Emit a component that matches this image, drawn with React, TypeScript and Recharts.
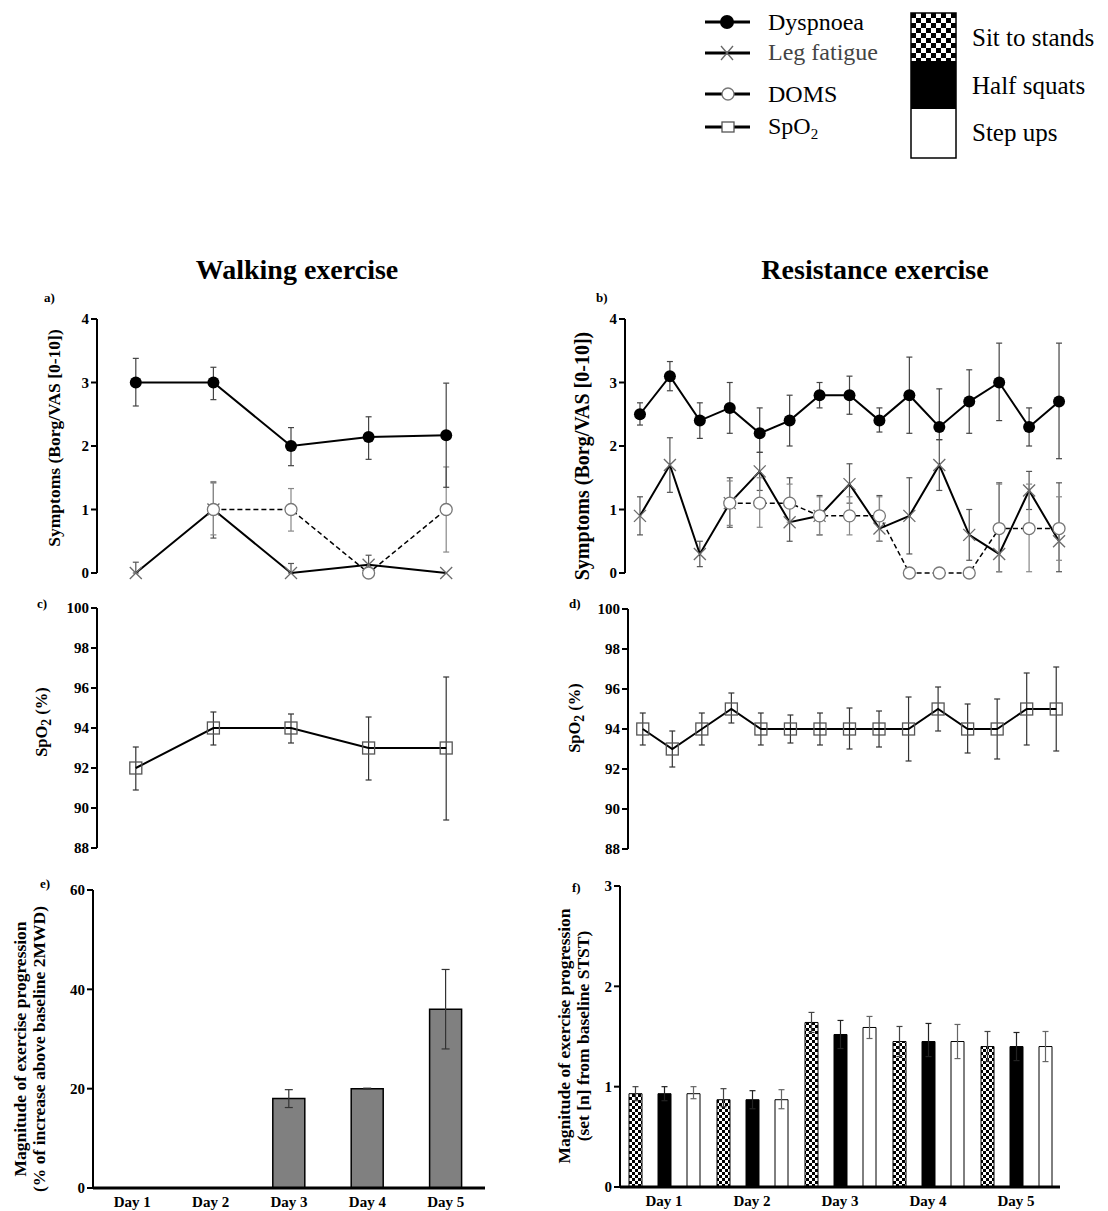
import React from 'react';
import { LineChart, Line, BarChart, Bar, XAxis, YAxis, ErrorBar } from 'recharts';

const SERIF = '"Liberation Serif", "Times New Roman", serif';

// walking exercise (days 1-5)
const walkDays = [1, 2, 3, 4, 5];
const walkDyspnoea = [3, 3, 2, 2.14, 2.17];
const walkDyspnoeaLo = [2.63, 2.73, 1.69, 1.79, 1.35];
const walkDyspnoeaHi = [3.38, 3.24, 2.29, 2.46, 2.99];
const walkLeg = [0, 1, 0, 0.13, 0];
const walkLegLo = [0, 0.55, 0, 0, null];
const walkLegHi = [0.17, 1.42, 0.15, 0.28, null];
const walkDoms = [null, 1, 1, 0, 1];
const walkDomsLo = [null, 0.6, 0.66, null, 0.33];
const walkDomsHi = [null, 1.44, 1.33, null, 1.67];
const walkSpo2 = [92, 94, 94, 93, 93];
const walkSpo2Lo = [90.9, 93.15, 93.25, 91.4, 89.4];
const walkSpo2Hi = [93.05, 94.8, 94.7, 94.55, 96.55];

// resistance exercise (sessions 1-15)
const resSessions = [1, 2, 3, 4, 5, 6, 7, 8, 9, 10, 11, 12, 13, 14, 15];
const resDyspnoea = [2.5, 3.1, 2.4, 2.6, 2.2, 2.4, 2.8, 2.8, 2.4, 2.8, 2.3, 2.7, 3.0, 2.3, 2.7];
const resDyspnoeaLo = [2.33, 2.87, 2.12, 2.2, 1.9, 2.0, 2.6, 2.5, 2.22, 2.2, 2.1, 2.2, 2.4, 2.0, 1.8];
const resDyspnoeaHi = [2.68, 3.33, 2.68, 3.0, 2.6, 2.8, 3.0, 3.1, 2.6, 3.4, 2.9, 3.2, 3.62, 2.6, 3.62];
const resLeg = [0.9, 1.7, 0.3, 1.1, 1.6, 0.8, 0.9, 1.4, 0.7, 0.9, 1.7, 0.6, 0.3, 1.3, 0.5];
const resLegLo = [0.6, 1.27, 0.1, 0.72, 1.3, 0.5, 0.6, 1.1, 0.5, 0.3, 1.3, 0.2, 0.02, 1.0, 0.02];
const resLegHi = [1.2, 2.13, 0.5, 1.5, 1.9, 1.5, 1.22, 1.72, 1.22, 1.5, 2.1, 1.0, 1.42, 1.6, 1.42];
const resDoms = [null, null, null, 1.1, 1.1, 1.1, 0.9, 0.9, 0.9, 0, 0, 0, 0.7, 0.7, 0.7];
const resDomsLo = [null, null, null, 0.75, 0.72, 0.8, 0.6, 0.6, 0.5, null, null, null, 0.02, 0.02, 0.2];
const resDomsHi = [null, null, null, 1.45, 1.5, 1.4, 1.2, 1.2, 1.2, null, null, null, 1.4, 1.4, 1.2];
const resSpo2 = [94, 93, 94, 95, 94, 94, 94, 94, 94, 94, 95, 94, 94, 95, 95];
const resSpo2Lo = [93.2, 92.1, 93.2, 94.3, 93.2, 93.3, 93.2, 93.0, 93.1, 92.4, 93.9, 92.8, 92.5, 93.2, 92.9];
const resSpo2Hi = [94.8, 93.9, 94.8, 95.8, 94.8, 94.7, 94.8, 95.05, 94.9, 95.6, 96.1, 95.25, 95.5, 96.8, 97.1];

// exercise progression
const dayLabels = ['Day 1', 'Day 2', 'Day 3', 'Day 4', 'Day 5'];
const walkProgress = [null, null, 18, 20, 36];
const walkProgressLo = [null, null, 16.2, 19.9, 28];
const walkProgressHi = [null, null, 19.8, 20.1, 44];
const sitToStands = [0.93, 0.87, 1.64, 1.45, 1.4];
const sitToStandsLo = [0.86, 0.8, 1.54, 1.3, 1.25];
const sitToStandsHi = [1.0, 0.98, 1.74, 1.6, 1.55];
const halfSquats = [0.93, 0.87, 1.52, 1.45, 1.4];
const halfSquatsLo = [0.86, 0.78, 1.38, 1.3, 1.26];
const halfSquatsHi = [1.0, 0.96, 1.66, 1.63, 1.54];
const stepUps = [0.93, 0.87, 1.59, 1.45, 1.4];
const stepUpsLo = [0.88, 0.78, 1.48, 1.28, 1.25];
const stepUpsHi = [1.0, 0.97, 1.7, 1.62, 1.55];

type Val = number | null;
type Series = { key: string; vals: Val[]; lo: Val[]; hi: Val[] };

const buildRows = (xKey: string, xs: (number | string)[], series: Series[]) =>
  xs.map((x, i) => {
    const row: Record<string, any> = { [xKey]: x };
    series.forEach((s) => {
      const v = s.vals[i];
      const lo = s.lo[i];
      const hi = s.hi[i];
      row[s.key] = v;
      row[s.key + 'Err'] = v == null || lo == null || hi == null ? undefined : [v - lo, hi - v];
    });
    return row;
  });

const walkRows = buildRows('x', walkDays, [
  { key: 'dys', vals: walkDyspnoea, lo: walkDyspnoeaLo, hi: walkDyspnoeaHi },
  { key: 'leg', vals: walkLeg, lo: walkLegLo, hi: walkLegHi },
  { key: 'doms', vals: walkDoms, lo: walkDomsLo, hi: walkDomsHi },
  { key: 'spo2', vals: walkSpo2, lo: walkSpo2Lo, hi: walkSpo2Hi },
]);
const resRows = buildRows('x', resSessions, [
  { key: 'dys', vals: resDyspnoea, lo: resDyspnoeaLo, hi: resDyspnoeaHi },
  { key: 'leg', vals: resLeg, lo: resLegLo, hi: resLegHi },
  { key: 'doms', vals: resDoms, lo: resDomsLo, hi: resDomsHi },
  { key: 'spo2', vals: resSpo2, lo: resSpo2Lo, hi: resSpo2Hi },
]);
const walkBarRows = buildRows('day', dayLabels, [
  { key: 'prog', vals: walkProgress, lo: walkProgressLo, hi: walkProgressHi },
]);
const resBarRows = buildRows('day', dayLabels, [
  { key: 'sts', vals: sitToStands, lo: sitToStandsLo, hi: sitToStandsHi },
  { key: 'hs', vals: halfSquats, lo: halfSquatsLo, hi: halfSquatsHi },
  { key: 'su', vals: stepUps, lo: stepUpsLo, hi: stepUpsHi },
]);

const skip = (p: any) => p.cx == null || p.cy == null || p.value == null || Number.isNaN(p.cy);

const DotFilled = (p: any) =>
  skip(p) ? <g key={p.index} /> : <circle key={p.index} cx={p.cx} cy={p.cy} r={6} fill="#000" />;
const DotCross = (p: any) =>
  skip(p) ? (
    <g key={p.index} />
  ) : (
    <g key={p.index} stroke="#6a6a6a" strokeWidth={1.3}>
      <line x1={p.cx - 6} y1={p.cy - 6} x2={p.cx + 6} y2={p.cy + 6} />
      <line x1={p.cx - 6} y1={p.cy + 6} x2={p.cx + 6} y2={p.cy - 6} />
    </g>
  );
const DotOpen = (p: any) =>
  skip(p) ? <g key={p.index} /> : <circle key={p.index} cx={p.cx} cy={p.cy} r={6} fill="#fff" stroke="#777" strokeWidth={1.3} />;
const DotSquare = (p: any) =>
  skip(p) ? (
    <g key={p.index} />
  ) : (
    <rect key={p.index} x={p.cx - 6} y={p.cy - 6} width={12} height={12} fill="none" stroke="#555" strokeWidth={1.3} />
  );

const tickStyle = { fill: '#000', fontSize: 15, fontWeight: 700, fontFamily: SERIF };
const axisLine = { stroke: '#000', strokeWidth: 2 };
const chartStyle = { fontFamily: SERIF };

const RotLabel: React.FC<{ x: number; y: number; size: number; children: React.ReactNode }> = ({ x, y, size, children }) => (
  <div
    style={{
      position: 'absolute',
      left: x,
      top: y,
      transform: 'translate(-50%, -50%) rotate(-90deg)',
      whiteSpace: 'nowrap',
      textAlign: 'center',
      fontFamily: SERIF,
      fontWeight: 700,
      fontSize: size,
      lineHeight: `${size + 1}px`,
    }}
  >
    {children}
  </div>
);

const Tag: React.FC<{ x: number; y: number; text: string }> = ({ x, y, text }) => (
  <div style={{ position: 'absolute', left: x, top: y, fontFamily: SERIF, fontWeight: 700, fontSize: 13 }}>{text}</div>
);

const SymptomChart: React.FC<{ rows: any[]; n: number; axisWidth: number; width: number; right: number }> = ({
  rows,
  n,
  axisWidth,
  width,
  right,
}) => (
  <LineChart width={width} height={290} data={rows} style={chartStyle} margin={{ top: 19, right, bottom: 17, left: 0 }}>
    <XAxis type="number" dataKey="x" domain={[0.5, n + 0.5]} hide />
    <YAxis
      domain={[0, 4]}
      ticks={[0, 1, 2, 3, 4]}
      width={axisWidth}
      axisLine={axisLine}
      tickLine={axisLine}
      tickSize={6}
      tick={tickStyle}
    />
    <Line dataKey="leg" stroke="#000" strokeWidth={2} dot={DotCross} activeDot={false} isAnimationActive={false}>
      <ErrorBar dataKey="legErr" direction="y" width={3} stroke="#555" strokeWidth={1.2} />
    </Line>
    <Line
      dataKey="doms"
      stroke="#000"
      strokeWidth={1.5}
      strokeDasharray="5 3"
      dot={DotOpen}
      activeDot={false}
      isAnimationActive={false}
    >
      <ErrorBar dataKey="domsErr" direction="y" width={3} stroke="#888" strokeWidth={1.2} />
    </Line>
    <Line dataKey="dys" stroke="#000" strokeWidth={2} dot={DotFilled} activeDot={false} isAnimationActive={false}>
      <ErrorBar dataKey="dysErr" direction="y" width={3} stroke="#444" strokeWidth={1.2} />
    </Line>
  </LineChart>
);

const Spo2Chart: React.FC<{ rows: any[]; n: number; axisWidth: number; width: number; right: number; top: number }> = ({
  rows,
  n,
  axisWidth,
  width,
  right,
  top,
}) => (
  <LineChart width={width} height={270} data={rows} style={chartStyle} margin={{ top, right, bottom: 30 - top, left: 0 }}>
    <XAxis type="number" dataKey="x" domain={[0.5, n + 0.5]} hide />
    <YAxis
      domain={[88, 100]}
      ticks={[88, 90, 92, 94, 96, 98, 100]}
      width={axisWidth}
      axisLine={axisLine}
      tickLine={axisLine}
      tickSize={6}
      tick={tickStyle}
    />
    <Line dataKey="spo2" stroke="#000" strokeWidth={2} dot={DotSquare} activeDot={false} isAnimationActive={false}>
      <ErrorBar dataKey="spo2Err" direction="y" width={3} stroke="#333" strokeWidth={1.2} />
    </Line>
  </LineChart>
);

const Legend = () => (
  <svg width={1108} height={170} style={{ position: 'absolute', left: 0, top: 0 }} fontFamily={SERIF}>
    <g stroke="#000" strokeWidth={3}>
      <line x1={705} y1={22} x2={750} y2={22} />
      <line x1={705} y1={53} x2={750} y2={53} />
      <line x1={705} y1={94} x2={750} y2={94} />
      <line x1={705} y1={127} x2={750} y2={127} />
    </g>
    <circle cx={727} cy={22} r={7} fill="#000" />
    <g stroke="#666" strokeWidth={1.3}>
      <line x1={721} y1={46} x2={733} y2={60} />
      <line x1={721} y1={60} x2={733} y2={46} />
    </g>
    <circle cx={728} cy={94} r={6} fill="#fff" stroke="#777" strokeWidth={1.3} />
    <rect x={722} y={122} width={12} height={10} fill="#fff" stroke="#555" strokeWidth={1.3} />
    <g fontSize={24} fill="#000">
      <text x={768} y={30}>Dyspnoea</text>
      <text x={768} y={60} fill="#444">Leg fatigue</text>
      <text x={768} y={102}>DOMS</text>
      <text x={768} y={134}>
        SpO<tspan fontSize={15} dy={5}>2</tspan>
      </text>
    </g>
    <g fontSize={25} fill="#000">
      <text x={972} y={46}>Sit to stands</text>
      <text x={972} y={94}>Half squats</text>
      <text x={972} y={141}>Step ups</text>
    </g>
    <rect x={911} y={13} width={45} height={48} fill="url(#checkerBig)" />
    <rect x={911} y={61} width={45} height={48} fill="#000" />
    <rect x={911} y={109} width={45} height={49} fill="#fff" />
    <rect x={911} y={13} width={45} height={145} fill="none" stroke="#000" strokeWidth={1.5} />
  </svg>
);

const titleStyle: React.CSSProperties = {
  position: 'absolute',
  top: 270,
  transform: 'translate(-50%, -50%)',
  fontFamily: SERIF,
  fontWeight: 700,
  fontSize: 28,
  whiteSpace: 'nowrap',
};

const App: React.FC = () => (
  <div style={{ position: 'absolute', left: 0, top: 0, width: 1108, height: 1211, background: '#fff', fontFamily: SERIF }}>
    <svg width={0} height={0} style={{ position: 'absolute' }}>
      <defs>
        <pattern id="checker" width={6} height={6} patternUnits="userSpaceOnUse">
          <rect width={6} height={6} fill="#fff" />
          <rect width={3} height={3} fill="#000" />
          <rect x={3} y={3} width={3} height={3} fill="#000" />
        </pattern>
        <pattern id="checkerBig" x={911} y={13} width={10} height={10} patternUnits="userSpaceOnUse">
          <rect width={10} height={10} fill="#fff" />
          <rect width={5} height={5} fill="#000" />
          <rect x={5} y={5} width={5} height={5} fill="#000" />
        </pattern>
      </defs>
    </svg>

    <Legend />

    <div style={{ ...titleStyle, left: 297 }}>Walking exercise</div>
    <div style={{ ...titleStyle, left: 875 }}>Resistance exercise</div>

    {/* a */}
    <div style={{ position: 'absolute', left: 0, top: 300 }}>
      <SymptomChart rows={walkRows} n={5} axisWidth={97} width={500} right={15} />
    </div>
    <Tag x={44} y={290} text="a)" />
    <RotLabel x={54} y={438} size={17.5}>Symptoms (Borg/VAS [0-10])</RotLabel>

    {/* b */}
    <div style={{ position: 'absolute', left: 560, top: 300 }}>
      <SymptomChart rows={resRows} n={15} axisWidth={65} width={530} right={16} />
    </div>
    <Tag x={596} y={290} text="b)" />
    <RotLabel x={582} y={456} size={20}>Symptoms (Borg/VAS [0-10])</RotLabel>

    {/* c */}
    <div style={{ position: 'absolute', left: 0, top: 590 }}>
      <Spo2Chart rows={walkRows} n={5} axisWidth={97} width={500} right={15} top={18} />
    </div>
    <Tag x={37} y={596} text="c)" />
    <RotLabel x={44} y={722} size={16.5}>
      SpO<sub>2</sub> (%)
    </RotLabel>

    {/* d */}
    <div style={{ position: 'absolute', left: 560, top: 590 }}>
      <Spo2Chart rows={resRows} n={15} axisWidth={68} width={530} right={19} top={19} />
    </div>
    <Tag x={569} y={596} text="d)" />
    <RotLabel x={577} y={718} size={16.5}>
      SpO<sub>2</sub> (%)
    </RotLabel>

    {/* e */}
    <div style={{ position: 'absolute', left: 0, top: 870 }}>
      <BarChart width={500} height={341} data={walkBarRows} style={chartStyle} margin={{ top: 20, right: 15, bottom: 3, left: 0 }}>
        <XAxis dataKey="day" height={20} axisLine={{ stroke: '#000', strokeWidth: 3 }} tickLine={false} tick={tickStyle} />
        <YAxis
          domain={[0, 60]}
          ticks={[0, 20, 40, 60]}
          width={93}
          axisLine={axisLine}
          tickLine={axisLine}
          tickSize={6}
          tick={tickStyle}
        />
        <Bar dataKey="prog" barSize={32} fill="#808080" stroke="#000" strokeWidth={1.5} isAnimationActive={false}>
          <ErrorBar dataKey="progErr" direction="y" width={4} stroke="#333" strokeWidth={1.2} />
        </Bar>
      </BarChart>
    </div>
    <Tag x={40} y={876} text="e)" />
    <RotLabel x={29} y={1049} size={17.5}>
      Magnitude of exercise progression
      <br />
      (% of increase above baseline 2MWD)
    </RotLabel>

    {/* f */}
    <div style={{ position: 'absolute', left: 560, top: 866 }}>
      <BarChart width={520} height={345} data={resBarRows} style={chartStyle} margin={{ top: 20, right: 20, bottom: 4, left: 0 }} barGap={16}>
        <XAxis dataKey="day" height={20} axisLine={{ stroke: '#000', strokeWidth: 3 }} tickLine={false} tick={tickStyle} />
        <YAxis
          domain={[0, 3]}
          ticks={[0, 1, 2, 3]}
          width={60}
          axisLine={axisLine}
          tickLine={axisLine}
          tickSize={6}
          tick={tickStyle}
        />
        <Bar dataKey="sts" barSize={13} fill="url(#checker)" stroke="#000" strokeWidth={1} isAnimationActive={false}>
          <ErrorBar dataKey="stsErr" direction="y" width={3} stroke="#444" strokeWidth={1.2} />
        </Bar>
        <Bar dataKey="hs" barSize={13} fill="#000" stroke="#000" strokeWidth={1} isAnimationActive={false}>
          <ErrorBar dataKey="hsErr" direction="y" width={3} stroke="#222" strokeWidth={1.2} />
        </Bar>
        <Bar dataKey="su" barSize={13} fill="#fff" stroke="#000" strokeWidth={1} isAnimationActive={false}>
          <ErrorBar dataKey="suErr" direction="y" width={3} stroke="#666" strokeWidth={1.2} />
        </Bar>
      </BarChart>
    </div>
    <Tag x={572} y={880} text="f)" />
    <RotLabel x={573} y={1036} size={17.5}>
      Magnitude of exercise progression
      <br />
      (set [n] from baseline STST)
    </RotLabel>
  </div>
);

export default App;
